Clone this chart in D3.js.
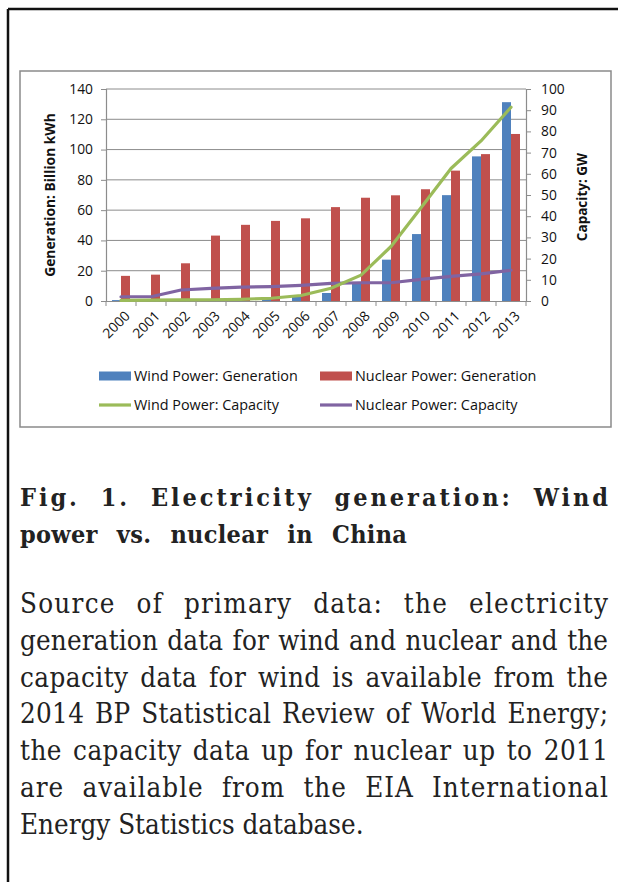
<!DOCTYPE html>
<html><head><meta charset="utf-8">
<script src="https://cdn.jsdelivr.net/npm/d3@7/dist/d3.min.js"></script>
<style>
html,body{margin:0;padding:0;background:#fff;}
svg{display:block;}
</style></head>
<body>
<svg id="c" width="618" height="882"></svg>
<script>
const years = ["2000","2001","2002","2003","2004","2005","2006","2007","2008","2009","2010","2011","2012","2013"];
const windGen = [0.6,0.7,0.9,1.0,1.3,1.9,2.8,5.3,12.5,27.3,44.2,69.9,95.5,131.3];
const nuclearGen = [16.6,17.4,24.9,43.2,50.3,52.9,54.6,62.0,68.2,69.8,73.8,86.1,97.0,110.3];
const windCap = [0.3,0.4,0.5,0.6,0.8,1.3,2.6,6.0,12.2,25.7,44.0,62.5,75.5,91.4];
const nuclearCap = [2.0,2.0,5.2,6.0,6.5,6.8,7.4,8.3,8.6,8.6,10.2,11.6,12.8,14.5];
const leftTicks = [0,20,40,60,80,100,120,140];
const rightTicks = [0,10,20,30,40,50,60,70,80,90,100];
const leftTitle = "Generation: Billion kWh";
const rightTitle = "Capacity: GW";
const legendItems = [
  {label:"Wind Power: Generation", type:"bar", color:"#4F81BD"},
  {label:"Nuclear Power: Generation", type:"bar", color:"#C0504D"},
  {label:"Wind Power: Capacity", type:"line", color:"#9BBB59"},
  {label:"Nuclear Power: Capacity", type:"line", color:"#8064A2"}
];
const captionTitle = ["Fig. 1. Electricity generation: Wind", "power vs. nuclear in China"];
const captionBody = [
  "Source of primary data: the electricity",
  "generation data for wind and nuclear and the",
  "capacity data for wind is available from the",
  "2014 BP Statistical Review of World Energy;",
  "the capacity data up for nuclear up to 2011",
  "are available from the EIA International",
  "Energy Statistics database."
];

const svg = d3.select("#c");
const FONT = "'Open Sans', 'Liberation Sans', sans-serif";

// page frame
svg.append("line").attr("x1",8).attr("x2",618).attr("y1",9).attr("y2",9).attr("stroke","#111").attr("stroke-width",2.5);
svg.append("line").attr("x1",8).attr("x2",8).attr("y1",9).attr("y2",882).attr("stroke","#111").attr("stroke-width",2.5);

// chart box
svg.append("rect").attr("x",20).attr("y",71).attr("width",591).attr("height",356)
  .attr("fill","#fff").attr("stroke","#8a8a8a").attr("stroke-width",1.5);

const L=106, R=526, T=89, B=301;
const x = d3.scaleBand().domain(years).range([L,R]).padding(0);
const yL = d3.scaleLinear().domain([0,140]).range([B,T]);
const yR = d3.scaleLinear().domain([0,100]).range([B,T]);
const bw = 9;

// gridlines
svg.append("g").selectAll("line").data(leftTicks.filter(d=>d>0)).join("line")
  .attr("x1",L).attr("x2",R).attr("y1",d=>yL(d)).attr("y2",d=>yL(d))
  .attr("stroke","#8c8c8c").attr("stroke-width",1);

// bars
const gb = svg.append("g");
gb.selectAll("rect.w").data(years).join("rect").attr("class","w")
  .attr("x",d=>x(d)+x.bandwidth()/2-bw).attr("width",bw)
  .attr("y",(d,i)=>yL(windGen[i])).attr("height",(d,i)=>B-yL(windGen[i]))
  .attr("fill","#4F81BD");
gb.selectAll("rect.n").data(years).join("rect").attr("class","n")
  .attr("x",d=>x(d)+x.bandwidth()/2).attr("width",bw)
  .attr("y",(d,i)=>yL(nuclearGen[i])).attr("height",(d,i)=>B-yL(nuclearGen[i]))
  .attr("fill","#C0504D");

// axes
const axL = d3.axisLeft(yL).tickValues(leftTicks).tickSize(5).tickPadding(8);
const gL = svg.append("g").attr("transform",`translate(${L},0)`).call(axL);
const axR = d3.axisRight(yR).tickValues(rightTicks).tickSize(5).tickPadding(10);
const gR = svg.append("g").attr("transform",`translate(${R},0)`).call(axR);
const axB = d3.axisBottom(x).tickSize(0).tickFormat("");
const gB = svg.append("g").attr("transform",`translate(0,${B})`).call(axB);
[gL,gR,gB].forEach(g=>{
  g.select(".domain").attr("stroke","#8c8c8c").attr("stroke-width",1.2);
  g.selectAll(".tick line").attr("stroke","#8c8c8c");
  g.selectAll("text").attr("font-family",FONT).attr("font-size",13.8).attr("fill","#111");
});
// category boundary ticks
const bounds = years.map(d=>x(d)).concat([R]);
svg.append("g").selectAll("line").data(bounds).join("line")
  .attr("x1",d=>d).attr("x2",d=>d).attr("y1",B).attr("y2",B+5).attr("stroke","#8c8c8c");
// x labels
svg.append("g").selectAll("text").data(years).join("text")
  .attr("transform",d=>`translate(${x(d)+x.bandwidth()/2+3},${B+9}) rotate(-45)`)
  .attr("text-anchor","end").attr("dy","0.7em")
  .attr("font-family",FONT).attr("font-size",13.8).attr("fill","#111").text(d=>d);

// lines
const lineW = d3.line().x((d,i)=>x(years[i])+x.bandwidth()/2).y(d=>yR(d));
svg.append("path").datum(nuclearCap).attr("d",lineW).attr("fill","none")
  .attr("stroke","#8064A2").attr("stroke-width",3.2).attr("stroke-linejoin","round").attr("stroke-linecap","round");
svg.append("path").datum(windCap).attr("d",lineW).attr("fill","none")
  .attr("stroke","#9BBB59").attr("stroke-width",3.2).attr("stroke-linejoin","round").attr("stroke-linecap","round");

// axis titles
svg.append("text").attr("transform","translate(55,195) rotate(-90)").attr("text-anchor","middle")
  .attr("font-family",FONT).attr("font-weight","bold").attr("font-size",13.8).attr("fill","#111").text(leftTitle);
svg.append("text").attr("transform","translate(587,197) rotate(-90)").attr("text-anchor","middle")
  .attr("font-family",FONT).attr("font-weight","bold").attr("font-size",13.5).attr("fill","#111").text(rightTitle);

// legend
const legPos = [[99,376],[320,376],[99,405],[320,405]];
legendItems.forEach((it,i)=>{
  const [lx,ly] = legPos[i];
  if(it.type==="bar") svg.append("rect").attr("x",lx).attr("y",ly-4.5).attr("width",32).attr("height",9).attr("fill",it.color);
  else svg.append("line").attr("x1",lx).attr("x2",lx+32).attr("y1",ly).attr("y2",ly).attr("stroke",it.color).attr("stroke-width",3.2);
  svg.append("text").attr("x",lx+35).attr("y",ly).attr("dy","0.35em")
    .attr("font-family",FONT).attr("font-size",14.4).attr("fill","#111").text(it.label);
});

// caption: justification split between letters and word gaps
function layoutLine(text, y, o){
  const t = svg.append("text").attr("x",o.x0).attr("y",y).attr("font-family",o.family)
    .attr("font-size",o.size).attr("font-weight",o.weight).attr("fill",o.color)
    .attr("xml:space","preserve").text(text);
  const w = t.node().getComputedTextLength();
  const n = text.length;
  const spaces = text.split(" ").length-1;
  let ls = o.ls||0, ws = o.ws||0;
  if(o.justify){
    const extra = o.x1-o.x0-w;
    ls = extra*o.frac/(n-1);
    ws = extra*(1-o.frac)/spaces;
  }
  t.attr("letter-spacing", ls).attr("word-spacing", ws);
}
const titleOpts = {family:"'DejaVu Serif Condensed','DejaVu Serif', serif", size:25, weight:"bold", color:"#222", x0:20, x1:608};
layoutLine(captionTitle[0], 506, Object.assign({justify:true, frac:0.72},titleOpts));
layoutLine(captionTitle[1], 543, Object.assign({justify:false, ls:0.3, ws:11},titleOpts));
const bodyOpts = {family:"'DejaVu Serif Condensed','DejaVu Serif', serif", size:27.5, weight:"normal", color:"#222", x0:20, x1:608};
captionBody.forEach((ln,i)=>{
  const last = i===captionBody.length-1;
  layoutLine(ln, 613 + i*36.8, Object.assign({justify:!last, frac:0.45}, bodyOpts));
});
</script>
</body></html>
